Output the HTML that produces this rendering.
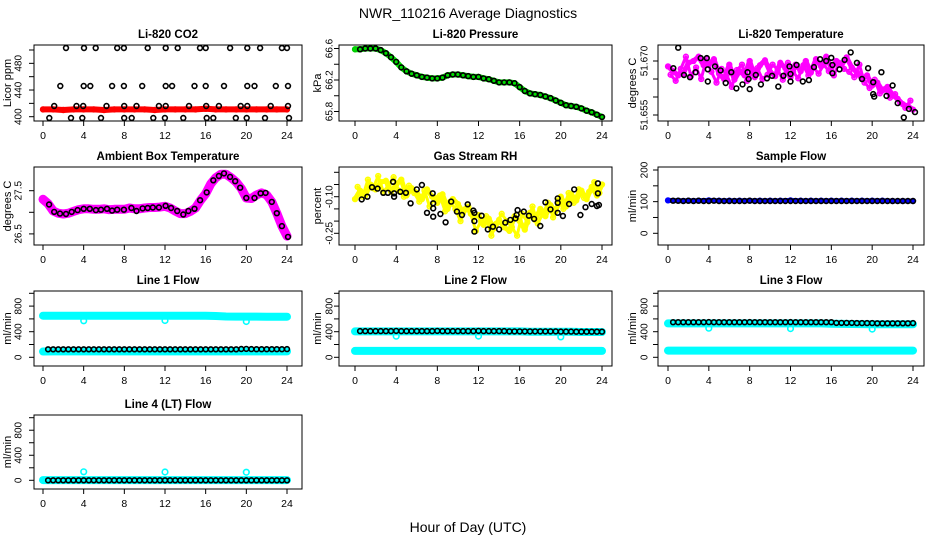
<!DOCTYPE html>
<html><head><meta charset="utf-8"><title>NWR_110216 Average Diagnostics</title>
<style>
html,body{margin:0;padding:0;background:#fff;}
svg{display:block;font-family:"Liberation Sans",Arial,sans-serif;}
</style></head>
<body>
<svg id="chart" width="936" height="540" viewBox="0 0 936 540" xmlns="http://www.w3.org/2000/svg">
<rect x="0" y="0" width="936" height="540" fill="#fff"/>
<text x="468" y="18" font-size="14" text-anchor="middle">NWR_110216  Average Diagnostics</text>
<text x="468" y="532" font-size="14" text-anchor="middle">Hour of Day (UTC)</text>
</svg>
<script>
// ---------- data ----------
const xTicks = [0,4,8,12,16,20,24];
const halfHours = [0,0.5,1,1.5,2,2.5,3,3.5,4,4.5,5,5.5,6,6.5,7,7.5,8,8.5,9,9.5,10,10.5,11,11.5,12,12.5,13,13.5,14,14.5,15,15.5,16,16.5,17,17.5,18,18.5,19,19.5,20,20.5,21,21.5,22,22.5,23,23.5,24];
const quarterHours = [0.25,0.75,1.25,1.75,2.25,2.75,3.25,3.75,4.25,4.75,5.25,5.75,6.25,6.75,7.25,7.75,8.25,8.75,9.25,9.75,10.25,10.75,11.25,11.75,12.25,12.75,13.25,13.75,14.25,14.75,15.25,15.75,16.25,16.75,17.25,17.75,18.25,18.75,19.25,19.75,20.25,20.75,21.25,21.75,22.25,22.75,23.25,23.75];
const hourly = [0,1,2,3,4,5,6,7,8,9,10,11,12,13,14,15,16,17,18,19,20,21,22,23,24];
const blackHours = [0.5,1,1.5,2,2.5,3,3.5,4,4.5,5,5.5,6,6.5,7,7.5,8,8.5,9,9.5,10,10.5,11,11.5,12,12.5,13,13.5,14,14.5,15,15.5,16,16.5,17,17.5,18,18.5,19,19.5,20,20.5,21,21.5,22,22.5,23,23.5,24];

// Li-820 CO2
const co2Red = [411,411,410,411,411,411,410,411,411,411,411,410,411,411,411,411,412,411,411,411,411,411,411,411,411];
const co2TopH = [2.26,4.03,5.18,7.3,7.96,10.3,12.07,13.25,15.44,16.0,18.4,20.1,21.35,23.5,24.0];
const co2MidH = [1.7,4.0,4.65,6.8,7.96,9.76,12.07,12.7,14.9,16.0,17.8,20.1,20.8,22.9,24.1];
const co2LowH = [1.1,3.3,3.95,6.25,7.99,9.2,11.4,12.07,14.36,16.05,17.3,19.45,20.1,22.4,24.1];
const co2BotH = [0.62,2.75,3.87,5.7,7.99,8.72,10.85,11.99,13.8,16.1,16.75,18.96,20.04,21.84,24.2];
const co2Levels = [503,446,416,398];

// Li-820 Pressure
const pressure = [66.59,66.59,66.60,66.60,66.60,66.58,66.54,66.49,66.43,66.36,66.31,66.28,66.26,66.24,66.23,66.22,66.22,66.23,66.26,66.27,66.27,66.26,66.25,66.24,66.24,66.22,66.21,66.19,66.17,66.17,66.17,66.16,66.11,66.06,66.03,66.02,66.01,65.99,65.97,65.94,65.91,65.88,65.87,65.86,65.84,65.81,65.79,65.76,65.73];

// Li-820 Temperature
const tempA = [51.6685,51.6672,51.6660,51.6665,51.6695,51.6700,51.6712,51.6688,51.6690,51.6705,51.6665,51.6650,51.6690,51.6648,51.6672,51.6660,51.6700,51.6655,51.6688,51.6702,51.6670,51.6658,51.6695,51.6680,51.6655,51.6690,51.6672,51.6700,51.6668,51.6705,51.6685,51.6712,51.6680,51.6700,51.6688,51.6710,51.6682,51.6668,51.6650,51.6660,51.6632,51.6640,51.6618,51.6628,51.6605,51.6595,51.6580,51.6575,51.6565];
const tempB = [51.6662,51.6645,51.6678,51.6712,51.6658,51.6682,51.6650,51.6705,51.6670,51.6640,51.6678,51.6662,51.6628,51.6675,51.6690,51.6645,51.6668,51.6680,51.6650,51.6662,51.6690,51.6676,51.6648,51.6695,51.6670,51.6652,51.6688,51.6660,51.6682,51.6665,51.6690,51.6672,51.6660,51.6695,51.6678,51.6670,51.6655,51.6690,51.6640,51.6625,51.6648,51.6610,51.6622,51.6598,51.6608,51.6585,51.6570,51.6590];
const tempBlackH = [0.52,1.0,1.57,2.16,2.7,3.2,3.8,3.9,3.9,4.6,5.15,5.65,6.2,6.7,7.3,7.8,7.9,8.0,8.6,9.1,9.7,10.2,10.8,11.3,11.9,12.0,12.0,12.6,13.2,13.8,14.3,14.9,15.5,16.0,16.1,16.1,16.8,17.3,17.9,18.5,19.0,19.6,20.1,20.1,20.2,20.9,21.4,22.0,22.5,23.1,23.6,24.2];
const tempBlackV = [51.6680,51.6737,51.6661,51.6655,51.6669,51.6708,51.6708,51.6677,51.6643,51.6685,51.6674,51.6639,51.6669,51.6624,51.6635,51.6669,51.6650,51.6622,51.6661,51.6635,51.6652,51.6659,51.6629,51.6659,51.6685,51.6664,51.6643,51.6689,51.6643,51.6647,51.6683,51.6705,51.6700,51.6709,51.6689,51.6666,51.6677,51.6703,51.6724,51.6695,51.6650,51.6680,51.6641,51.6608,51.6601,51.6669,51.6603,51.6632,51.6583,51.6543,51.6567,51.6558];

// Ambient Box Temperature
const boxTemp = [27.30,27.20,27.03,26.98,26.96,26.98,27.02,27.06,27.08,27.08,27.07,27.07,27.08,27.06,27.07,27.07,27.07,27.10,27.08,27.08,27.10,27.11,27.11,27.12,27.14,27.10,27.03,26.97,26.97,27.02,27.10,27.28,27.43,27.66,27.80,27.88,27.88,27.80,27.70,27.55,27.33,27.32,27.40,27.45,27.40,27.24,26.98,26.68,26.45];
const boxBlackH = [0.6,1.1,1.67,2.26,2.82,3.4,4.0,4.6,5.2,5.7,6.3,6.8,7.3,7.96,8.7,9.2,9.8,10.3,10.8,11.4,12.06,12.6,13.2,13.8,14.3,14.9,15.45,16.1,16.75,17.3,17.8,18.4,18.9,19.4,20.0,20.8,21.4,21.9,22.5,23.0,23.5,24.1];
const boxBlackV = [27.18,27.01,26.97,26.96,27.01,27.05,27.08,27.08,27.05,27.06,27.08,27.04,27.06,27.06,27.10,27.03,27.09,27.10,27.11,27.11,27.15,27.10,27.03,26.95,27.03,27.08,27.28,27.46,27.74,27.84,27.90,27.82,27.72,27.57,27.33,27.33,27.44,27.45,27.24,26.98,26.68,26.43];

// Gas Stream RH
const rhA = [-0.110,-0.075,-0.095,-0.050,-0.070,-0.040,-0.035,-0.080,-0.050,-0.030,-0.095,-0.065,-0.085,-0.110,-0.070,-0.100,-0.125,-0.090,-0.150,-0.110,-0.130,-0.165,-0.140,-0.185,-0.175,-0.215,-0.190,-0.230,-0.195,-0.225,-0.240,-0.180,-0.200,-0.235,-0.165,-0.195,-0.150,-0.180,-0.135,-0.160,-0.100,-0.140,-0.090,-0.115,-0.075,-0.110,-0.060,-0.095,-0.050];
const rhB = [-0.060,-0.100,-0.030,-0.065,-0.015,-0.080,-0.055,-0.020,-0.075,-0.100,-0.055,-0.085,-0.120,-0.075,-0.140,-0.105,-0.095,-0.160,-0.120,-0.150,-0.200,-0.150,-0.170,-0.240,-0.200,-0.180,-0.260,-0.210,-0.170,-0.200,-0.225,-0.260,-0.170,-0.205,-0.140,-0.210,-0.170,-0.125,-0.185,-0.115,-0.150,-0.085,-0.125,-0.070,-0.105,-0.080,-0.040,-0.085];
const rhBlackH = [0.65,1.2,1.65,2.2,2.75,3.2,3.7,3.8,3.8,4.4,4.95,5.4,6.0,6.5,7.0,7.55,7.6,7.6,7.6,8.3,8.8,9.35,9.9,10.4,10.95,11.5,11.6,11.6,11.6,12.3,12.9,13.4,14.0,14.6,15.1,15.6,15.7,15.8,16.4,16.9,17.4,18.0,18.5,19.0,19.7,19.7,19.7,20.2,20.8,21.3,21.9,22.4,23.0,23.5,23.6,23.6,23.7];
const rhBlackV = [-0.111,-0.100,-0.061,-0.067,-0.084,-0.084,-0.039,-0.086,-0.100,-0.080,-0.084,-0.127,-0.070,-0.052,-0.166,-0.086,-0.127,-0.148,-0.182,-0.171,-0.205,-0.120,-0.161,-0.175,-0.131,-0.157,-0.166,-0.200,-0.243,-0.178,-0.234,-0.223,-0.234,-0.206,-0.195,-0.189,-0.175,-0.155,-0.161,-0.178,-0.191,-0.220,-0.123,-0.152,-0.107,-0.125,-0.166,-0.179,-0.130,-0.070,-0.175,-0.143,-0.130,-0.138,-0.086,-0.045,-0.134];

// Sample Flow
const sampleBlue = [104,103,103,103,104,103,103,103,103,103,103,103,104,103,103,103,103,103,103,103,103,103,102,102,102];
const sampleBlack = [103,103,102,103,102,103,102,102,103,102,102,102,102,102,102,103,102,102,102,102,102,102,102,102,102,102,102,102,102,102,102,102,102,102,102,102,102,102,102,102,102,102,102,102,102,102,102,102];

// Line flows
const line1Upper = [650,650,650,650,648,650,650,650,650,650,650,650,650,650,650,650,648,645,638,636,636,636,635,635,635];
const line1Lower = [90,92,92,92,92,92,92,92,92,92,92,92,92,92,92,92,92,92,92,92,92,92,92,92,92];
const line1Black = [125,125,125,125,125,125,125,125,125,125,125,125,125,125,125,125,125,125,125,125,125,125,125,125,125,125,125,125,125,125,125,125,125,125,125,125,125,125,130,132,128,126,126,126,126,126,126,128];
const line1DipV = [570,575,560];
const line2Upper = [405,405,405,405,405,405,405,405,405,405,405,405,405,405,405,405,405,400,400,400,400,398,395,395,395];
const line2Lower = [100,100,100,100,100,100,100,100,100,100,100,100,100,100,100,100,100,100,100,100,100,100,100,100,100];
const line2Black = [410,410,410,410,410,410,410,412,410,410,410,410,410,410,410,412,410,410,410,410,410,410,410,412,410,410,410,410,410,405,405,405,405,405,405,405,405,405,405,402,402,402,400,400,400,400,400,400];
const line2DipV = [330,332,318];
const line3Upper = [530,530,530,530,530,530,530,530,530,530,530,530,530,530,530,530,525,522,520,518,515,515,515,515,515];
const line3Lower = [104,104,104,104,104,104,104,104,104,104,104,104,104,104,104,104,104,104,104,104,104,104,104,104,104];
const line3Black = [548,548,548,548,548,548,548,550,548,548,548,548,548,548,548,550,548,548,548,548,548,548,548,550,548,548,548,548,548,548,548,548,538,538,538,538,535,535,535,535,532,532,532,532,532,532,532,535];
const line3DipV = [455,448,440];
const line4Cyan = [3,3,3,3,3,3,3,3,3,3,3,3,3,3,3,3,3,3,3,3,3,3,3,3,3];
const line4Black = [0,0,0,0,0,0,0,0,0,0,0,0,0,0,0,0,0,0,0,0,0,0,0,0,0,0,0,0,0,0,0,0,0,0,0,0,0,0,0,0,0,0,0,0,0,0,0,0];
const line4DipV = [135,132,130];
const dipHours = [4,12,20];

// ---------- drawing ----------
const NS = "http://www.w3.org/2000/svg";
const svg = document.getElementById("chart");
const cols = [
  {l:34, r:302, x0:43, x24:287, tlx:19, ylx:8},
  {l:339, r:612, x0:355, x24:602, tlx:330, ylx:318},
  {l:658, r:924, x0:668, x24:913, tlx:645, ylx:633}
];
const rows = [{t:45,b:121},{t:167,b:245},{t:291,b:366},{t:415,b:489}];

function mk(tag, attrs, parent){
  const el = document.createElementNS(NS, tag);
  for (const k in attrs) el.setAttribute(k, attrs[k]);
  (parent||svg).appendChild(el);
  return el;
}

let clipId = 0;
function panel(name, ci, ri, title, ylab, v0, y0, v1, y1, ticks, labels){
  const c = cols[ci], r = rows[ri];
  const g = mk("g", {});
  
  
  const sx = h => c.x0 + (h/24)*(c.x24 - c.x0);
  const sy = v => y0 + (v - v0)*(y1 - y0)/(v1 - v0);
  clipId++;
  const cp = mk("clipPath", {id:"cp"+clipId}, g);
  mk("rect", {x:c.l, y:r.t, width:c.r-c.l, height:r.b-r.t}, cp);
  const plot = mk("g", {"clip-path":"url(#cp"+clipId+")"}, g);
  
  
  const frame = mk("rect", {x:c.l, y:r.t, width:c.r-c.l, height:r.b-r.t, fill:"none", stroke:"#000", "stroke-width":1}, g);
  
  
  const t = mk("text", {x:(c.l+c.r)/2, y:r.t-7, "font-size":11.5, "font-weight":"bold", "text-anchor":"middle"}, g);
  t.textContent = title;
  
  
  const yl = mk("text", {x:c.ylx, y:(r.t+r.b)/2, "font-size":11, "text-anchor":"middle", "dominant-baseline":"central", transform:"rotate(-90 "+c.ylx+" "+((r.t+r.b)/2)+")"}, g);
  yl.textContent = ylab;
  
  
  for (const h of xTicks){
    const tk = mk("line", {x1:sx(h), x2:sx(h), y1:r.b, y2:r.b+5, stroke:"#000"}, g);
    
    
    const tl = mk("text", {x:sx(h), y:r.b+18, "font-size":10.5, "text-anchor":"middle"}, g);
    tl.textContent = String(h);
    
    
  }
  for (const v of ticks){
    const yy = sy(v);
    const tk = mk("line", {x1:c.l-5, x2:c.l, y1:yy, y2:yy, stroke:"#000"}, g);
    
    
  }
  for (const lab of labels){
    const yy = sy(lab[0]);
    const tl = mk("text", {x:c.tlx, y:yy, "font-size":10, "text-anchor":"middle", "dominant-baseline":"central", transform:"rotate(-90 "+c.tlx+" "+yy+")"}, g);
    tl.textContent = lab[1];
    
    
  }
  return {plot, sx, sy};
}

function band(p, name, hs, vs, color, w){
  const pts = hs.map((h,i)=>p.sx(h).toFixed(1)+","+p.sy(vs[i]).toFixed(1)).join(" ");
  const pl = mk("polyline", {points:pts, fill:"none", stroke:color, "stroke-width":w, "stroke-linejoin":"round", "stroke-linecap":"round"}, p.plot);
  
  
}
function dots(p, name, hs, vs, color, rad, sw){
  for (let i=0;i<hs.length;i++){
    const c = mk("circle", {cx:p.sx(hs[i]).toFixed(1), cy:p.sy(vs[i]).toFixed(1), r:rad, fill:"none", stroke:color, "stroke-width":sw}, p.plot);
    
    
  }
}

const p1 = panel("co2", 0, 0, "Li-820 CO2", "Licor ppm", 400, 116.7, 500, 50,
  [400,420,440,460,480,500], [[400,"400"],[440,"440"],[480,"480"]]);
band(p1, "co2-red-band", hourly, co2Red, "#ff0000", 6);
dots(p1, "co2-red-point", hourly, co2Red, "#ff0000", 2.4, 1.6);
dots(p1, "co2-black-point", co2TopH, co2TopH.map(()=>co2Levels[0]), "#000", 2.4, 1.6);
dots(p1, "co2-black-point", co2MidH, co2MidH.map(()=>co2Levels[1]), "#000", 2.4, 1.6);
dots(p1, "co2-black-point", co2LowH, co2LowH.map(()=>co2Levels[2]), "#000", 2.4, 1.6);
dots(p1, "co2-black-point", co2BotH, co2BotH.map(()=>co2Levels[3]), "#000", 2.4, 1.6);

const p2 = panel("pressure", 1, 0, "Li-820 Pressure", "kPa", 66.2, 80, 66.6, 48.5,
  [65.8,66.0,66.2,66.4,66.6], [[65.8,"65.8"],[66.2,"66.2"],[66.6,"66.6"]]);
band(p2, "pressure-green-band", halfHours, pressure, "#00dd00", 6);
dots(p2, "pressure-green-point", halfHours, pressure, "#00cc00", 2.4, 1.5);
dots(p2, "pressure-black-point", halfHours.slice(1), pressure.slice(1), "#000", 2.4, 1.6);

const p3 = panel("li820-temp", 2, 0, "Li-820 Temperature", "degrees C", 51.655, 115, 51.670, 61,
  [51.655,51.660,51.665,51.670], [[51.655,"51.655"],[51.670,"51.670"]]);
band(p3, "temp-magenta-band", halfHours, tempA, "#ff00ff", 5);
band(p3, "temp-magenta-band", quarterHours, tempB, "#ff00ff", 3);
dots(p3, "temp-magenta-point", halfHours, tempA, "#ff00ff", 2.4, 1.5);
dots(p3, "temp-magenta-point", quarterHours, tempB, "#ff00ff", 2.4, 1.5);
dots(p3, "temp-black-point", tempBlackH, tempBlackV, "#000", 2.4, 1.6);

const p4 = panel("box-temp", 0, 1, "Ambient Box Temperature", "degrees C", 27.0, 212.3, 27.5, 190.7,
  [26.5,27.0,27.5], [[26.5,"26.5"],[27.5,"27.5"]]);
band(p4, "box-temp-magenta-band", halfHours, boxTemp, "#ff00ff", 9);
dots(p4, "box-temp-magenta-point", halfHours, boxTemp, "#ff00ff", 2.4, 1.5);
dots(p4, "box-temp-black-point", boxBlackH, boxBlackV, "#000", 2.4, 1.6);

const p5 = panel("gas-rh", 1, 1, "Gas Stream RH", "percent", -0.10, 196.7, -0.25, 233.3,
  [-0.25,-0.20,-0.15,-0.10,-0.05,0], [[-0.25,"-0.25"],[-0.10,"-0.10"]]);
band(p5, "rh-yellow-band", halfHours, rhA, "#ffff00", 5);
band(p5, "rh-yellow-band", quarterHours, rhB, "#ffff00", 3);
dots(p5, "rh-yellow-point", halfHours, rhA, "#ffff00", 2.4, 1.5);
dots(p5, "rh-yellow-point", quarterHours, rhB, "#ffff00", 2.4, 1.5);
dots(p5, "rh-black-point", rhBlackH, rhBlackV, "#000", 2.4, 1.6);

const p6 = panel("sample-flow", 2, 1, "Sample Flow", "ml/min", 0, 233.3, 200, 170,
  [0,50,100,150,200], [[0,"0"],[100,"100"],[200,"200"]]);
band(p6, "sample-blue-band", hourly, sampleBlue, "#0000ff", 5);
dots(p6, "sample-blue-point", hourly, sampleBlue, "#0000ff", 2.4, 1.5);
dots(p6, "sample-black-point", blackHours, sampleBlack, "#000", 2.4, 1.6);

function flowPanel(name, ci, ri, title, upper, lower, black, dipV, z0, z1000){
  const p = panel(name, ci, ri, title, "ml/min", 0, z0, 1000, z1000,
    [0,200,400,600,800,1000], [[0,"0"],[400,"400"],[800,"800"]]);
  if (upper){ band(p, name+"-cyan-upper-band", hourly, upper, "#00ffff", 8); dots(p, name+"-cyan-upper-point", hourly, upper, "#00ffff", 2.4, 1.5); }
  band(p, name+"-cyan-lower-band", hourly, lower, "#00ffff", 8);
  dots(p, name+"-cyan-lower-point", hourly, lower, "#00ffff", 2.4, 1.5);
  dots(p, name+"-cyan-dip-point", dipHours, dipV, "#00ffff", 2.8, 1.6);
  dots(p, name+"-black-point", blackHours, black, "#000", 2.4, 1.6);
  return p;
}
flowPanel("line1-flow", 0, 2, "Line 1 Flow", line1Upper, line1Lower, line1Black, line1DipV, 357.3, 293.3);
flowPanel("line2-flow", 1, 2, "Line 2 Flow", line2Upper, line2Lower, line2Black, line2DipV, 357.3, 293.3);
flowPanel("line3-flow", 2, 2, "Line 3 Flow", line3Upper, line3Lower, line3Black, line3DipV, 357.3, 293.3);
flowPanel("line4-flow", 0, 3, "Line 4 (LT) Flow", null, line4Cyan, line4Black, line4DipV, 480.3, 417.7);
</script>
</body></html>
